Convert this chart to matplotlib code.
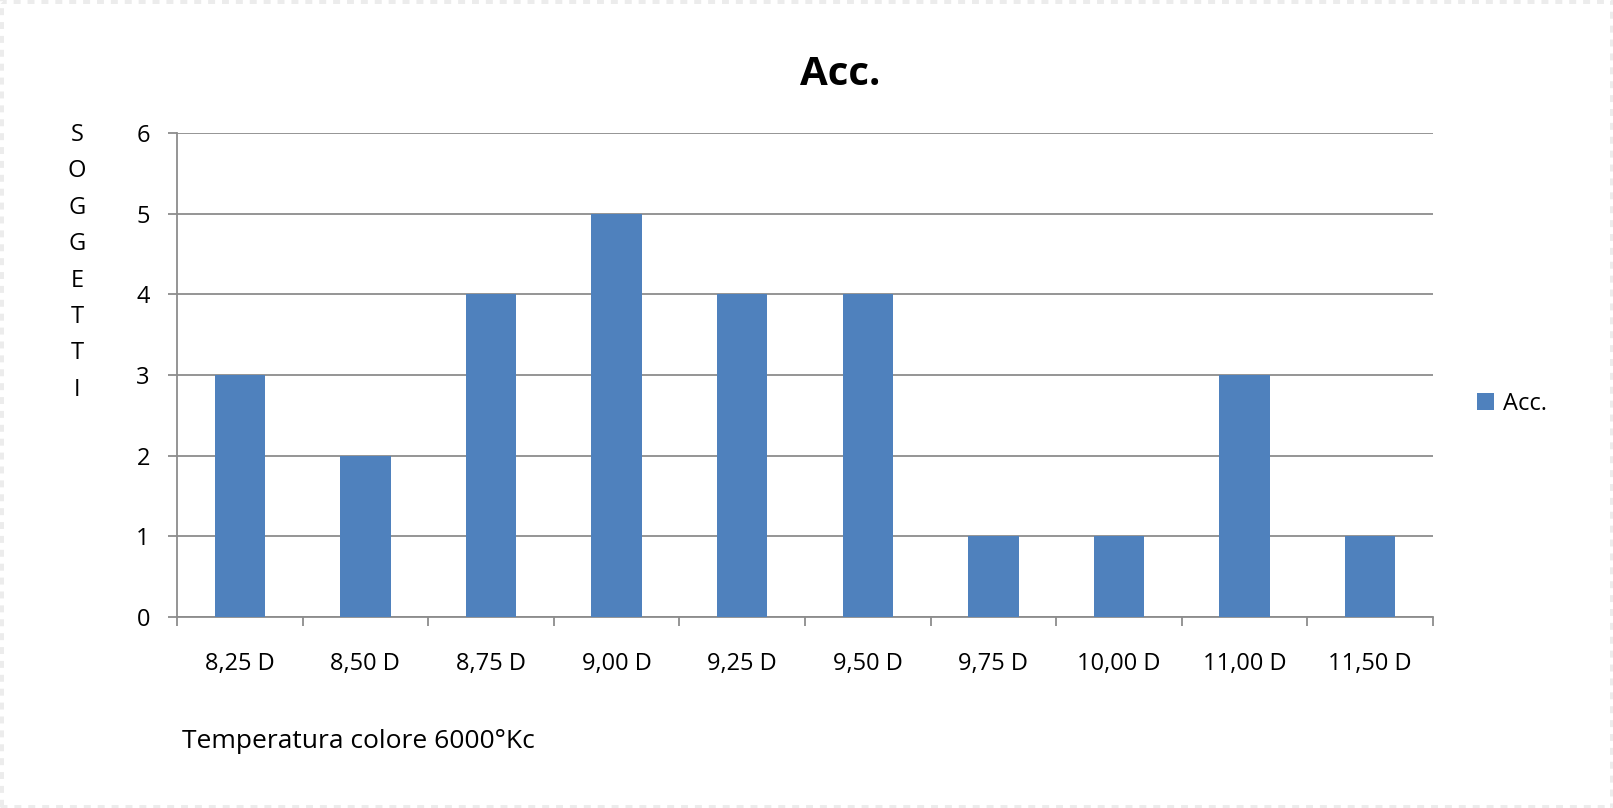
import numpy as np
import matplotlib
matplotlib.use("Agg")
import matplotlib.pyplot as plt
from matplotlib.patches import Rectangle

plt.rcParams['font.family'] = ['Open Sans', 'DejaVu Sans']

# data
categories = ["8,25 D", "8,50 D", "8,75 D", "9,00 D", "9,25 D",
              "9,50 D", "9,75 D", "10,00 D", "11,00 D", "11,50 D"]
acc_counts = [3, 2, 4, 5, 4, 4, 1, 1, 3, 1]
y_ticks = [0, 1, 2, 3, 4, 5, 6]

bar_color = "#4F81BD"
grid_color = "#8C8C8C"

W, H = 1613, 808
fig = plt.figure(figsize=(W / 100, H / 100), dpi=100)
fig.patch.set_facecolor("white")

# faint frame around the image
fig.patches.append(Rectangle((0, 0), 1, 1, transform=fig.transFigure,
                             fill=False, edgecolor="#ececec", lw=5,
                             linestyle=(0, (1, 1))))

ax = fig.add_axes([177 / W, 1 - 617 / H, (1433 - 177) / W, (617 - 133) / H])

x = np.arange(len(categories))
bars = ax.bar(x, acc_counts, width=0.4, color=bar_color, label="Acc.", zorder=3)

ax.set_xlim(-0.5, len(categories) - 0.5)
ax.set_ylim(0, 6)

# horizontal gridlines
ax.set_yticks(y_ticks)
ax.set_yticklabels([str(v) for v in y_ticks], fontsize=17)
ax.yaxis.grid(True, color=grid_color, lw=1.3, zorder=0)
ax.tick_params(axis="y", length=6.5, width=1.3, color=grid_color, pad=13)

# category labels centred, tick marks on the boundaries
ax.set_xticks(x)
ax.set_xticklabels(categories, fontsize=17)
ax.tick_params(axis="x", which="major", length=0, pad=25)
ax.set_xticks(np.arange(len(categories) + 1) - 0.5, minor=True)
ax.tick_params(axis="x", which="minor", length=6.5, width=1.3, color=grid_color)

for side in ["top", "right"]:
    ax.spines[side].set_visible(False)
for side in ["left", "bottom"]:
    ax.spines[side].set_color(grid_color)
    ax.spines[side].set_linewidth(1.3)

# title and axis captions
fig.text(840 / W, 1 - 85 / H, "Acc.", fontsize=29, fontweight="bold",
         ha="center", va="baseline")
for i, letter in enumerate("SOGGETTI"):
    fig.text(77 / W, 1 - (135 + 36.4 * i) / H, letter, fontsize=17,
             ha="center", va="center")
fig.text(182 / W, 1 - 742 / H, "Temperatura colore 6000°Kc", fontsize=19,
         ha="left", va="center")

fig.legend(handles=[bars], labels=["Acc."], loc="center left",
           bbox_to_anchor=(1477 / W, 1 - 404 / H), frameon=False,
           fontsize=17, handlelength=0.7, handleheight=0.7,
           handletextpad=0.4, borderpad=0, borderaxespad=0)

fig.savefig("out.png", dpi=100)
